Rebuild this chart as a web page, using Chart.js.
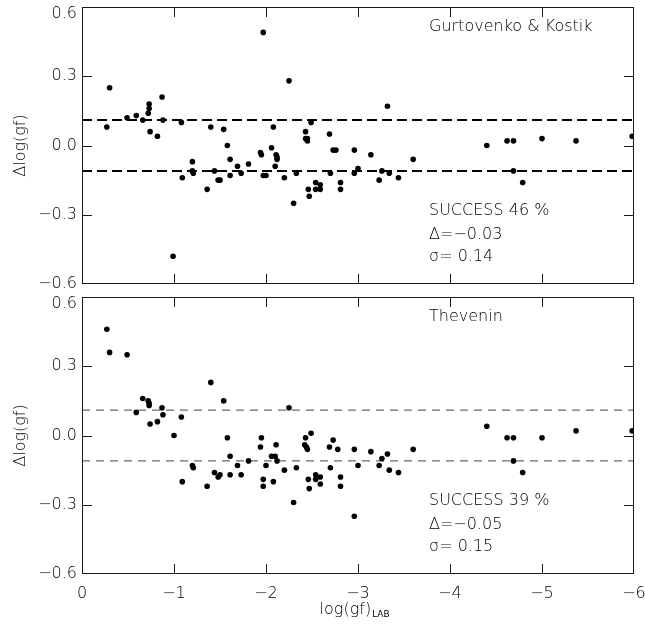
<!DOCTYPE html>
<html lang="en">
<head>
  <meta charset="UTF-8" />
  <title>log(gf) comparison</title>
  <script src="https://cdn.jsdelivr.net/npm/chart.js"></script>
  <style>
    body {
      margin: 0;
      background: #fff;
    }
    #wrap {
      position: relative;
      width: 645px;
      height: 630px;
    }
    canvas {
      position: absolute;
      left: 0;
    }
    #top { top: 0; }
    #bottom { top: 290px; }
  </style>
</head>
<body>
  <div id="wrap">
    <canvas id="top" width="645" height="290"></canvas>
    <canvas id="bottom" width="645" height="340"></canvas>
  </div>

  <script>
    // values
    const xTicks = [0, -1, -2, -3, -4, -5, -6];
    const yTicks = [-0.6, -0.3, 0.0, 0.3, 0.6];
    const bandLevels = [0.11, -0.11];

    // Gurtovenko & Kostik
    const gkX = [-0.27, -0.30, -0.49, -0.59, -0.66, -0.72, -0.73, -0.73, -0.74, -0.82,
      -0.87, -0.88, -0.99, -1.08, -1.09, -1.20, -1.20, -1.21, -1.36, -1.40,
      -1.44, -1.48, -1.50, -1.54, -1.58, -1.61, -1.61, -1.69, -1.73, -1.81,
      -1.94, -1.95, -1.97, -1.97, -2.00, -2.06, -2.08, -2.10, -2.11, -2.12,
      -2.12, -2.20, -2.25, -2.30, -2.33, -2.43, -2.43, -2.45, -2.45, -2.46,
      -2.47, -2.49, -2.54, -2.54, -2.59, -2.59, -2.69, -2.70, -2.73, -2.76,
      -2.81, -2.81, -2.96, -2.96, -3.00, -3.14, -3.23, -3.26, -3.32, -3.34,
      -3.44, -3.60, -4.40, -4.62, -4.69, -4.69, -4.79, -5.00, -5.37, -5.98];
    const gkY = [0.08, 0.25, 0.12, 0.13, 0.11, 0.14, 0.16, 0.18, 0.06, 0.04,
      0.21, 0.11, -0.48, 0.10, -0.14, -0.11, -0.07, -0.12, -0.19, 0.08,
      -0.11, -0.15, -0.15, 0.07, 0.00, -0.06, -0.13, -0.09, -0.12, -0.08,
      -0.03, -0.04, 0.49, -0.13, -0.13, -0.01, 0.08, -0.09, -0.04, -0.05,
      -0.06, -0.14, 0.28, -0.25, -0.12, 0.06, 0.03, 0.02, 0.03, -0.19,
      -0.22, 0.10, -0.16, -0.19, -0.19, -0.17, 0.05, -0.12, -0.02, -0.02,
      -0.16, -0.19, -0.02, -0.12, -0.10, -0.04, -0.15, -0.11, 0.17, -0.12,
      -0.14, -0.06, 0.00, 0.02, 0.02, -0.11, -0.16, 0.03, 0.02, 0.04];

    // Thevenin
    const thX = [-0.27, -0.30, -0.49, -0.59, -0.66, -0.72, -0.73, -0.73, -0.74, -0.82,
      -0.87, -0.88, -1.00, -1.08, -1.09, -1.20, -1.21, -1.36, -1.40, -1.44,
      -1.48, -1.50, -1.54, -1.58, -1.61, -1.61, -1.69, -1.73, -1.81, -1.94,
      -1.95, -1.97, -1.97, -2.00, -2.06, -2.08, -2.10, -2.11, -2.12, -2.20,
      -2.25, -2.30, -2.33, -2.43, -2.42, -2.44, -2.45, -2.46, -2.47, -2.49,
      -2.54, -2.54, -2.59, -2.59, -2.69, -2.70, -2.73, -2.78, -2.81, -2.81,
      -2.96, -2.96, -3.00, -3.14, -3.23, -3.26, -3.32, -3.34, -3.44, -3.60,
      -4.40, -4.62, -4.69, -4.69, -4.79, -5.00, -5.37, -5.98];
    const thY = [0.46, 0.36, 0.35, 0.10, 0.16, 0.15, 0.14, 0.13, 0.05, 0.06,
      0.12, 0.09, 0.00, 0.08, -0.20, -0.13, -0.14, -0.22, 0.23, -0.16,
      -0.18, -0.17, 0.15, -0.01, -0.09, -0.17, -0.13, -0.17, -0.11, -0.05,
      -0.01, -0.19, -0.22, -0.13, -0.09, -0.20, -0.09, -0.04, -0.11, -0.15,
      0.12, -0.29, -0.14, -0.01, -0.04, -0.05, -0.06, -0.19, -0.23, 0.01,
      -0.17, -0.19, -0.18, -0.21, -0.05, -0.14, -0.02, -0.06, -0.18, -0.22,
      -0.06, -0.35, -0.13, -0.07, -0.13, -0.10, -0.08, -0.15, -0.16, -0.06,
      0.04, -0.01, -0.01, -0.11, -0.16, -0.01, 0.02, 0.02];

    const FONT = "'DejaVu Sans', 'Liberation Sans', sans-serif";
    const WEIGHT = '200';
    const INK = '#1a1a1a';
    const TEXT = '#000';
    const TICK = 10;
    const YMAX = 0.6;

    function minus(s) { return String(s).replace('-', '\u2212'); }
    function yLabel(v) { return Math.abs(v) < 1e-9 ? '0.0' : minus(v.toFixed(1)); }

    // frame, inward ticks on all four sides and the text labels
    const framePlugin = {
      id: 'frame',
      afterDraw(chart, args, opts) {
        const { ctx, chartArea: a, scales: { x, y } } = chart;
        ctx.save();
        ctx.strokeStyle = INK;
        ctx.lineWidth = 1;
        ctx.strokeRect(a.left + 0.5, a.top + 0.5, a.right - a.left - 1, a.bottom - a.top - 1);
        ctx.beginPath();
        xTicks.forEach(v => {
          if (v === 0 || v === -6) return;
          const px = Math.round(x.getPixelForValue(v)) + 0.5;
          ctx.moveTo(px, a.top); ctx.lineTo(px, a.top + TICK);
          ctx.moveTo(px, a.bottom); ctx.lineTo(px, a.bottom - TICK);
        });
        yTicks.forEach(v => {
          if (Math.abs(v) > 0.5) return;
          const py = Math.round(y.getPixelForValue(v)) + 0.5;
          ctx.moveTo(a.left, py); ctx.lineTo(a.left + TICK, py);
          ctx.moveTo(a.right, py); ctx.lineTo(a.right - TICK, py);
        });
        ctx.stroke();

        ctx.fillStyle = TEXT;
        ctx.font = WEIGHT + ' 16px ' + FONT;

        // the top y label sits just under the corner
        ctx.textAlign = 'right';
        ctx.textBaseline = 'top';
        ctx.fillText(yLabel(YMAX), a.left - 5, y.getPixelForValue(YMAX) - 1);

        ctx.textBaseline = 'alphabetic';
        ctx.textAlign = 'left';
        const tx = a.left + 347;
        ctx.fillText(opts.name, tx, a.top + 24);
        ctx.fillText(opts.stats[0], tx, a.top + 208);
        ctx.fillText(opts.stats[1], tx, a.top + 232);
        ctx.fillText(opts.stats[2], tx, a.top + 254);

        // y axis title, rotated
        ctx.save();
        ctx.translate(25, (a.top + a.bottom) / 2);
        ctx.rotate(-Math.PI / 2);
        ctx.textAlign = 'center';
        ctx.fillText('\u0394log(gf)', 0, 0);
        ctx.restore();

        // x axis title with subscript
        if (opts.xTitle) {
          const main = 'log(gf)';
          const w1 = ctx.measureText(main).width;
          ctx.font = WEIGHT + ' 9px ' + FONT;
          const w2 = ctx.measureText('LAB').width;
          const sx = (a.left + a.right) / 2 - (w1 + w2) / 2 - 4;
          const by = a.bottom + 40;
          ctx.font = WEIGHT + ' 16px ' + FONT;
          ctx.fillText(main, sx, by);
          ctx.font = '9px ' + FONT;
          ctx.fillText('LAB', sx + w1 + 1, by + 3);
        }
        ctx.restore();
      }
    };

    function makeChart(id, xs, ys, opts) {
      const points = xs.map((v, i) => ({ x: v, y: ys[i] }));
      const bands = bandLevels.map(lv => ({
        type: 'line',
        data: [{ x: 0, y: lv }, { x: -6, y: lv }],
        borderColor: opts.dashColor,
        borderWidth: opts.dashWidth,
        borderDash: opts.dash,
        pointRadius: 0,
        fill: false
      }));

      return new Chart(document.getElementById(id).getContext('2d'), {
        type: 'scatter',
        data: {
          datasets: [{
            data: points,
            backgroundColor: '#000',
            borderWidth: 0,
            pointRadius: 2.8
          }].concat(bands)
        },
        options: {
          responsive: false,
          animation: false,
          layout: { padding: { top: 7, right: 11, bottom: opts.showX ? 0 : 6, left: 0 } },
          plugins: {
            legend: { display: false },
            tooltip: { enabled: false },
            frame: opts.frame
          },
          scales: {
            x: {
              type: 'linear',
              min: -6,
              max: 0,
              reverse: true,
              display: opts.showX,
              afterFit(s) {
                s.height = opts.showX ? 56 : 0;
                s.paddingLeft = 0;
                s.paddingRight = 0;
              },
              afterBuildTicks(s) { s.ticks = xTicks.map(v => ({ value: v })); },
              grid: { display: false, drawTicks: false },
              border: { display: false },
              ticks: {
                padding: 10,
                maxRotation: 0,
                autoSkip: false,
                color: TEXT,
                font: { family: FONT, size: 16, weight: WEIGHT },
                callback: v => v === 0 ? '0' : minus(v)
              }
            },
            y: {
              min: -YMAX,
              max: YMAX,
              afterFit(s) {
                s.width = 82;
                s.paddingTop = 0;
                s.paddingBottom = 0;
              },
              afterBuildTicks(s) { s.ticks = yTicks.map(v => ({ value: v })); },
              grid: { display: false, drawTicks: false },
              border: { display: false },
              ticks: {
                padding: 5,
                color: TEXT,
                font: { family: FONT, size: 16, weight: WEIGHT },
                // the top label is drawn by the frame plugin
                callback: v => v > YMAX - 1e-9 ? '' : yLabel(v)
              }
            }
          }
        },
        plugins: [framePlugin]
      });
    }

    makeChart('top', gkX, gkY, {
      showX: false,
      dash: [10, 5],
      dashWidth: 2,
      dashColor: '#000',
      frame: {
        name: 'Gurtovenko & Kostik',
        stats: ['SUCCESS 46 %', '\u0394=\u22120.03', '\u03c3= 0.14']
      }
    });

    makeChart('bottom', thX, thY, {
      showX: true,
      dash: [8, 6],
      dashWidth: 1,
      dashColor: '#444',
      frame: {
        name: 'Thevenin',
        stats: ['SUCCESS 39 %', '\u0394=\u22120.05', '\u03c3= 0.15'],
        xTitle: true
      }
    });
  </script>
</body>
</html>
